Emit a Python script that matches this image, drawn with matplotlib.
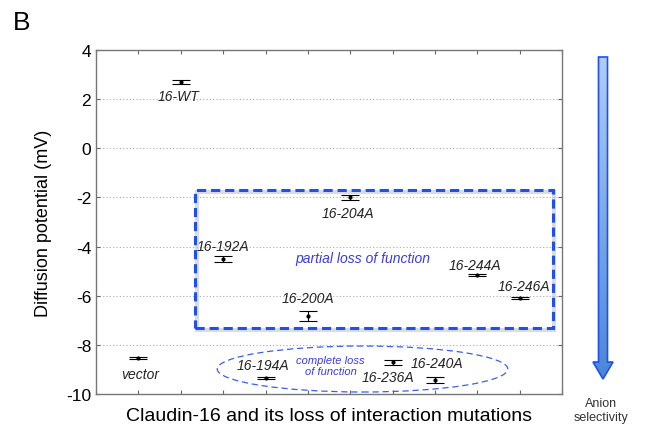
import numpy as np
import matplotlib
matplotlib.use('Agg')
import matplotlib.pyplot as plt
from matplotlib.patches import Rectangle, Ellipse, FancyArrow
from matplotlib.colors import LinearSegmentedColormap

plt.rcParams['font.family'] = ['Liberation Sans', 'DejaVu Sans']
plt.rcParams['axes.unicode_minus'] = False

# data
names = ['vector', '16-WT', '16-192A', '16-194A', '16-200A', '16-204A',
         '16-236A', '16-240A', '16-244A', '16-246A']
pos = [1, 2, 3, 4, 5, 6, 7, 8, 9, 10]
potential = [-8.53, 2.70, -4.50, -9.35, -6.82, -2.00, -8.71, -9.42, -5.16, -6.09]
sem = [0.05, 0.08, 0.12, 0.03, 0.22, 0.10, 0.09, 0.12, 0.03, 0.06]
# label positions
lab_x = [1.05, 1.95, 3.0, 3.95, 5.0, 5.95, 6.9, 8.05, 8.95, 10.1]
lab_y = [-9.2, 2.12, -3.96, -8.8, -6.09, -2.63, -9.3, -8.75, -4.76, -5.6]

fig = plt.figure(figsize=(6.49, 4.39), dpi=100)
ax = fig.add_axes([0.148, 0.100, 0.718, 0.784])

ax.errorbar(pos, potential, yerr=sem, fmt='o', color='black', ms=2,
            ecolor='black', elinewidth=0.8, capsize=6.5, capthick=0.8)
for n, x, y in zip(names, lab_x, lab_y):
    ax.text(x, y, n, ha='center', va='center', fontsize=10, style='italic',
            color='#222222')

ax.set_xlim(0, 11)
ax.set_ylim(-10, 4)
ax.set_xticks(range(0, 12))
ax.set_xticklabels([])
ax.set_yticks(range(-10, 5, 2))
ax.tick_params(direction='in', top=True, right=True, length=3,
               color='#666666', labelsize=12.5)
for s in ax.spines.values():
    s.set_color('#777777')
    s.set_linewidth(1.0)
for yv in range(-8, 4, 2):
    ax.axhline(yv, color='#aaaaaa', lw=0.8, ls=(0, (1, 2)), zorder=0)

ax.set_ylabel('Diffusion potential (mV)', fontsize=13, labelpad=10)
ax.set_xlabel('Claudin-16 and its loss of interaction mutations', fontsize=14,
              labelpad=6)

# partial loss box, with soft shadow
shadow = Rectangle((2.38, -7.39), 8.44, 5.62, fill=False, ec='#bbbbbb',
                   lw=3, alpha=0.5, zorder=1)
ax.add_patch(shadow)
box = Rectangle((2.34, -7.31), 8.44, 5.62, fill=False, ec='#1f4ff0',
                lw=2.2, ls=(0, (3, 1.6)), zorder=2)
ax.add_patch(box)
ax.text(6.29, -4.47, 'partial loss of function', color='#3a3ae0',
        fontsize=10, style='italic', ha='center', va='center')

ell = Ellipse((6.29, -8.98), 6.86, 1.87, fill=False, ec='#3a5ef0', lw=0.9,
              ls=(0, (5, 3)), zorder=2)
ax.add_patch(ell)
ax.text(5.54, -8.85, 'complete loss\nof function', color='#3a3ae0',
        fontsize=8, style='italic', ha='center', va='center', linespacing=1.1)

# overlay axes in pixel units for panel letter and arrow
ov = fig.add_axes([0, 0, 1, 1], facecolor='none')
ov.set_xlim(0, 649)
ov.set_ylim(439, 0)
ov.axis('off')
ov.text(13, 23, 'B', fontsize=19, ha='left', va='center')

arrow = FancyArrow(603, 58, 0, 322, width=9, head_width=20, head_length=17,
                   length_includes_head=True, ec='#1f4ff0', fc='none', lw=1.2,
                   zorder=3)
ov.add_patch(arrow)
grad = np.linspace(0, 1, 256).reshape(-1, 1)
cm = LinearSegmentedColormap.from_list('b', ['#b0cdf8', '#4a86d6'])
im = ov.imshow(grad, cmap=cm, extent=(590, 616, 381, 57), aspect='auto',
               zorder=2)
fill_arrow = FancyArrow(603, 58, 0, 322, width=9, head_width=20,
                        head_length=17, length_includes_head=True,
                        transform=ov.transData)
im.set_clip_path(fill_arrow)
ov.set_xlim(0, 649)
ov.set_ylim(439, 0)
ov.text(601, 411, 'Anion\nselectivity', fontsize=9, ha='center', va='center',
        color='#333333', linespacing=1.15)

fig.savefig('out.png', dpi=100)
